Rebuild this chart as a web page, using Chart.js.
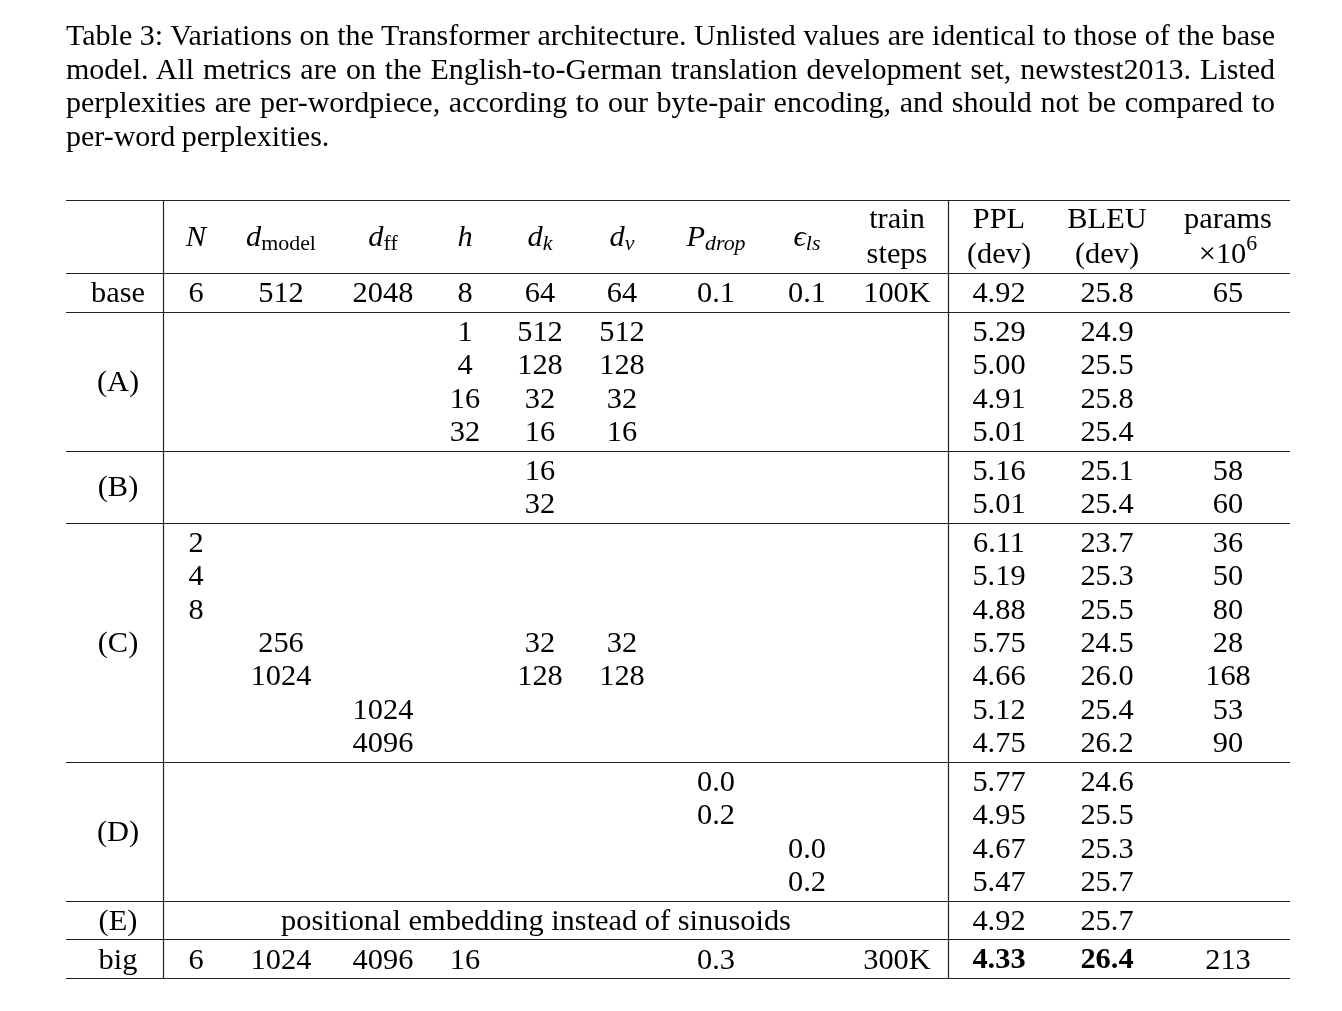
<!DOCTYPE html>
<html>
<head>
<meta charset="utf-8">
<script src="https://cdn.jsdelivr.net/npm/chart.js@4.4.1/dist/chart.umd.min.js"></script>
<style>
  html, body { margin: 0; padding: 0; background: #fff; }
  #wrap { position: relative; width: 1342px; height: 1011px; }
  #caption {
    position: absolute; left: 66px; top: 18px; width: 1209px;
    font-family: "Liberation Serif", "Times New Roman", serif;
    font-size: 30px; line-height: 33.5px; color: #000; z-index: 2;
  }
  #caption span { display: block; white-space: nowrap; text-align: justify; text-align-last: justify; word-spacing: -1px; }
  #caption span.last { text-align-last: left; }
  canvas { position: absolute; left: 0; top: 0; }
</style>
</head>
<body>
<div id="wrap">
  <div id="caption">
    <span>Table 3: Variations on the Transformer architecture. Unlisted values are identical to those of the base</span>
    <span>model. All metrics are on the English-to-German translation development set, newstest2013. Listed</span>
    <span>perplexities are per-wordpiece, according to our byte-pair encoding, and should not be compared to</span>
    <span class="last">per-word perplexities.</span>
  </div>
  <canvas id="table" width="1342" height="1011"></canvas>
</div>
<script>
// --- data ---
const groupNames = ["base", "(A)", "(B)", "(C)", "(D)", "(E)", "big"];
const groupSizes = [1, 4, 2, 7, 4, 1, 1];

// one entry per data row: base | A x4 | B x2 | C x7 | D x4 | E | big
const colN      = ["6", "", "", "", "", "", "", "2", "4", "8", "", "", "", "", "", "", "", "", "", "6"];
const colDmodel = ["512", "", "", "", "", "", "", "", "", "", "256", "1024", "", "", "", "", "", "", "", "1024"];
const colDff    = ["2048", "", "", "", "", "", "", "", "", "", "", "", "1024", "4096", "", "", "", "", "", "4096"];
const colH      = ["8", "1", "4", "16", "32", "", "", "", "", "", "", "", "", "", "", "", "", "", "", "16"];
const colDk     = ["64", "512", "128", "32", "16", "16", "32", "", "", "", "32", "128", "", "", "", "", "", "", "", ""];
const colDv     = ["64", "512", "128", "32", "16", "", "", "", "", "", "32", "128", "", "", "", "", "", "", "", ""];
const colPdrop  = ["0.1", "", "", "", "", "", "", "", "", "", "", "", "", "", "0.0", "0.2", "", "", "", "0.3"];
const colEls    = ["0.1", "", "", "", "", "", "", "", "", "", "", "", "", "", "", "", "0.0", "0.2", "", ""];
const colSteps  = ["100K", "", "", "", "", "", "", "", "", "", "", "", "", "", "", "", "", "", "", "300K"];
const colPPL    = ["4.92", "5.29", "5.00", "4.91", "5.01", "5.16", "5.01", "6.11", "5.19", "4.88", "5.75", "4.66", "5.12", "4.75", "5.77", "4.95", "4.67", "5.47", "4.92", "4.33"];
const colBLEU   = ["25.8", "24.9", "25.5", "25.8", "25.4", "25.1", "25.4", "23.7", "25.3", "25.5", "24.5", "26.0", "25.4", "26.2", "24.6", "25.5", "25.3", "25.7", "25.7", "26.4"];
const colParams = ["65", "", "", "", "", "58", "60", "36", "50", "80", "28", "168", "53", "90", "", "", "", "", "", "213"];
const spanText = "positional embedding instead of sinusoids";
const spanRow = 18;
const boldRow = 19;

// --- layout (table-local units) ---
const tableW = 1224;
const colCenters = [52, 130, 215, 317, 399, 474, 556, 650, 741, 831, 933, 1041, 1162];
const dividers = [97, 882];
const spanCenter = 470;
const lineH = 33.4, padTop = 18.7, padBot = 20;
const headerLines = [18, 53], headerRule = 73;

const FONT = '"Liberation Serif", "Times New Roman", serif';
const FS = 30.4;
const DY = 2.5; // optical shift of text below the middle baseline

// row centres + rules computed from group sizes
const rowY = [], groupY = [], rules = [0, headerRule];
let y = headerRule;
groupSizes.forEach((n, g) => {
  const first = y + padTop;
  for (let i = 0; i < n; i++) rowY.push(first + i * lineH);
  const last = first + (n - 1) * lineH;
  groupY.push((first + last) / 2);
  y = last + padBot;
  rules.push(y);
});
const tableH = y;

const columns = [colN, colDmodel, colDff, colH, colDk, colDv, colPdrop, colEls, colSteps, colPPL, colBLEU, colParams];
const cells = [];
groupNames.forEach((name, g) => cells.push({ x: colCenters[0], y: groupY[g], t: name }));
columns.forEach((col, c) => {
  col.forEach((v, r) => {
    if (v !== "") cells.push({ x: colCenters[c + 1], y: rowY[r], t: v, b: r === boldRow && (c === 9 || c === 10) });
  });
});
cells.push({ x: spanCenter, y: rowY[spanRow], t: spanText });

// header pieces: [text, style] ; i = italic, s = sub, si = italic sub, sup = superscript
const headers = [
  null,
  [[["N", "i"]]],
  [[["d", "i"], ["model", "s"]]],
  [[["d", "i"], ["ff", "s"]]],
  [[["h", "i"]]],
  [[["d", "i"], ["k", "si"]]],
  [[["d", "i"], ["v", "si"]]],
  [[["P", "i"], ["drop", "si"]]],
  [[["\u03f5", "i"], ["ls", "si"]]],
  [[["train", ""]], [["steps", ""]]],
  [[["PPL", ""]], [["(dev)", ""]]],
  [[["BLEU", ""]], [["(dev)", ""]]],
  [[["params", ""]], [["\u00d710", ""], ["6", "sup"]]]
];

function segFont(st) {
  if (st === "s" || st === "sup") return `${FS * 0.72}px ${FONT}`;
  if (st === "si") return `italic ${FS * 0.72}px ${FONT}`;
  if (st === "i") return `italic ${FS}px ${FONT}`;
  return `${FS}px ${FONT}`;
}
function drawSegs(ctx, segs, cx, cy) {
  let w = 0;
  segs.forEach(([t, st]) => { ctx.font = segFont(st); w += ctx.measureText(t).width; });
  let x = cx - w / 2;
  ctx.textAlign = "left";
  segs.forEach(([t, st]) => {
    ctx.font = segFont(st);
    let dy = 0;
    if (st === "s" || st === "si") dy = 6;
    if (st === "sup") dy = -11;
    ctx.fillText(t, x, cy + dy + DY);
    x += ctx.measureText(t).width;
  });
}

const tablePlugin = {
  id: "tablePlugin",
  afterDatasetsDraw(chart) {
    const ctx = chart.ctx, xs = chart.scales.x, ys = chart.scales.y;
    ctx.save();
    ctx.fillStyle = "#000";
    ctx.textBaseline = "middle";
    // cells
    const meta = chart.getDatasetMeta(0);
    meta.data.forEach((el, i) => {
      const c = cells[i];
      ctx.font = `${c.b ? "bold " : ""}${FS}px ${FONT}`;
      ctx.textAlign = "center";
      ctx.fillText(c.t, el.x, el.y + DY);
    });
    // header
    const hMid = (headerLines[0] + headerLines[1]) / 2;
    headers.forEach((h, c) => {
      if (!h) return;
      const cx = xs.getPixelForValue(colCenters[c]);
      if (h.length === 1) drawSegs(ctx, h[0], cx, ys.getPixelForValue(hMid));
      else h.forEach((line, k) => drawSegs(ctx, line, cx, ys.getPixelForValue(headerLines[k])));
    });
    // rules
    ctx.strokeStyle = "#222";
    ctx.lineWidth = 1.2;
    const x0 = xs.getPixelForValue(0), x1 = xs.getPixelForValue(tableW);
    rules.forEach((r) => {
      const py = Math.round(ys.getPixelForValue(r)) + 0.5;
      ctx.beginPath(); ctx.moveTo(x0, py); ctx.lineTo(x1, py); ctx.stroke();
    });
    dividers.forEach((d) => {
      const px = Math.round(xs.getPixelForValue(d)) + 0.5;
      ctx.beginPath();
      ctx.moveTo(px, ys.getPixelForValue(0));
      ctx.lineTo(px, ys.getPixelForValue(tableH));
      ctx.stroke();
    });
    ctx.restore();
  }
};

new Chart(document.getElementById("table"), {
  type: "scatter",
  data: {
    datasets: [{ data: cells.map((c) => ({ x: c.x, y: c.y })), pointRadius: 0, showLine: false }]
  },
  options: {
    responsive: false,
    animation: false,
    events: [],
    layout: { padding: { left: 66, right: 52, top: 200, bottom: 1011 - 200 - tableH } },
    plugins: { legend: { display: false }, tooltip: { enabled: false } },
    scales: {
      x: { type: "linear", display: false, min: 0, max: tableW },
      y: { type: "linear", display: false, min: 0, max: tableH, reverse: true }
    }
  },
  plugins: [tablePlugin]
});
</script>
</body>
</html>
